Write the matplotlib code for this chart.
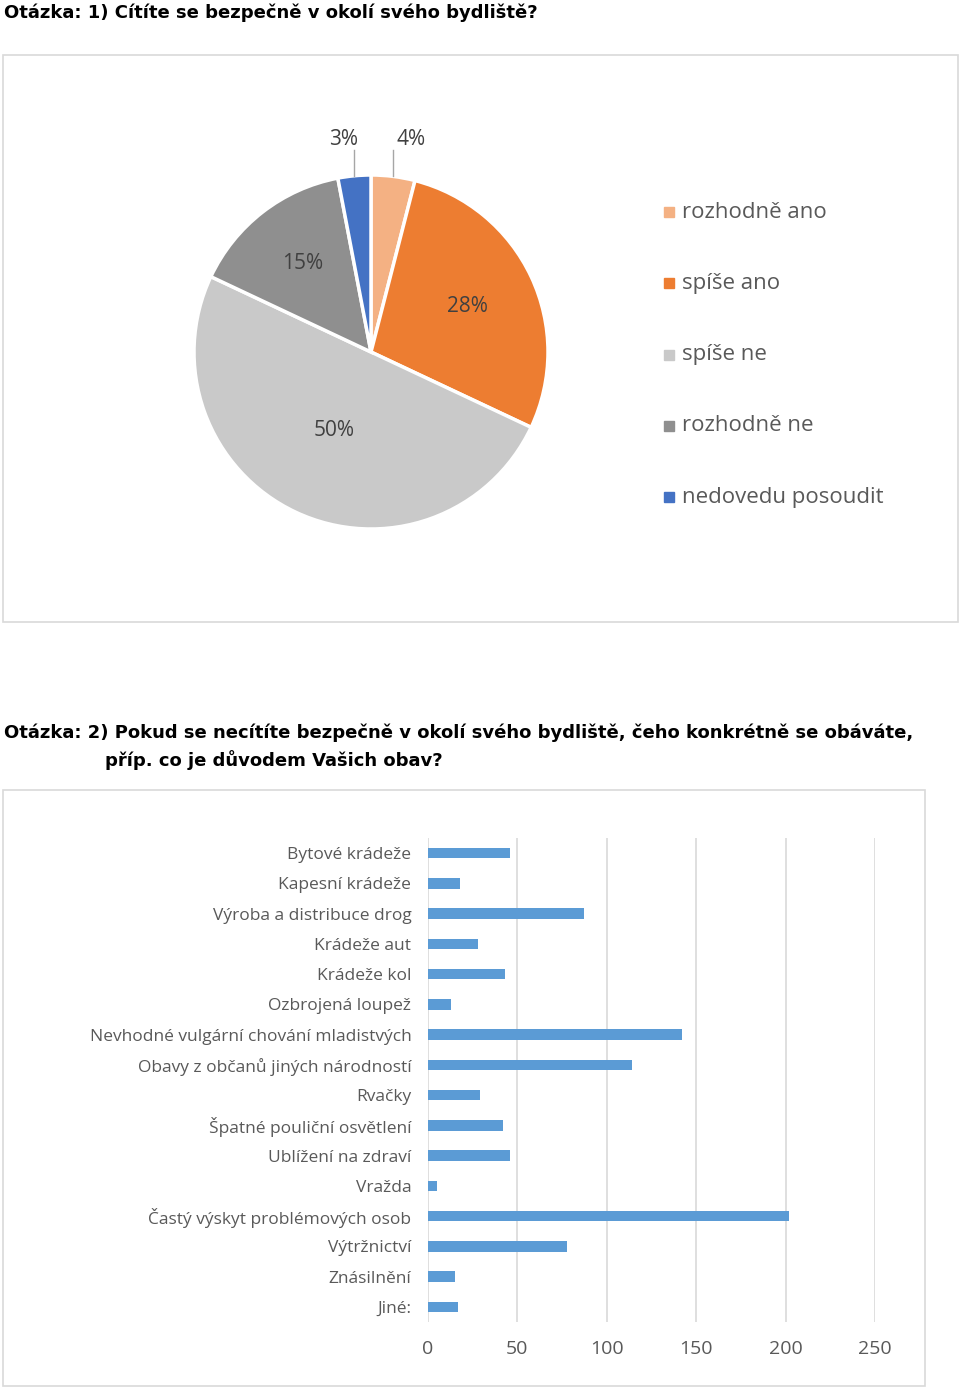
import matplotlib
matplotlib.use('Agg')
import matplotlib.pyplot as plt
from matplotlib.patches import Rectangle
import numpy as np

W, H = 960, 1389

# Otázka 1 - koláčový graf
pie_labels = ['rozhodně ano', 'spíše ano', 'spíše ne', 'rozhodně ne', 'nedovedu posoudit']
pie_values = [4, 28, 50, 15, 3]
pie_colors = ['#F4B183', '#ED7D31', '#C9C9C9', '#8F8F8F', '#4472C4']

# Otázka 2 - sloupcový graf
bar_labels = ['Bytové krádeže', 'Kapesní krádeže', 'Výroba a distribuce drog', 'Krádeže aut',
              'Krádeže kol', 'Ozbrojená loupež', 'Nevhodné vulgární chování mladistvých',
              'Obavy z občanů jiných národností', 'Rvačky', 'Špatné pouliční osvětlení',
              'Ublížení na zdraví', 'Vražda', 'Častý výskyt problémových osob', 'Výtržnictví',
              'Znásilnění', 'Jiné:']
bar_values = [46, 18, 87, 28, 43, 13, 142, 114, 29, 42, 46, 5, 202, 78, 15, 17]
x_ticks = [0, 50, 100, 150, 200, 250]

text_gray = '#595959'
label_gray = '#404040'


def fx(x):
    return x / W


def fy(y):
    return 1 - y / H


def box(x0, y0, x1, y1):
    # rámeček grafu v pixelech
    fig.patches.append(Rectangle((fx(x0), fy(y1)), fx(x1) - fx(x0), fy(y0) - fy(y1),
                                 transform=fig.transFigure, fill=False,
                                 edgecolor='#D9D9D9', linewidth=1.2))


fig = plt.figure(figsize=(W / 100, H / 100), dpi=100)
fig.patch.set_facecolor('white')

# nadpisy
title_kw = dict(fontsize=13, fontweight='bold', family='DejaVu Sans', va='center', ha='left')
fig.text(fx(4), fy(13), 'Otázka: 1) Cítíte se bezpečně v okolí svého bydliště?', **title_kw)
fig.text(fx(4), fy(733),
         'Otázka: 2) Pokud se necítíte bezpečně v okolí svého bydliště, čeho konkrétně se obáváte,',
         **title_kw)
fig.text(fx(105), fy(760), 'příp. co je důvodem Vašich obav?', **title_kw)

box(3, 55, 958, 622)
box(3, 790, 925, 1386)

# koláč
cx, cy, r = 371, 352, 177
ax1 = fig.add_axes([fx(cx - r), fy(cy + r), (2 * r) / W, (2 * r) / H])
wedges, _ = ax1.pie(pie_values, colors=pie_colors, startangle=90, counterclock=False,
                    wedgeprops=dict(edgecolor='white', linewidth=2.5))
ax1.set_xlim(-1, 1)
ax1.set_ylim(-1, 1)
ax1.set_aspect('equal')
ax1.axis('off')

cum = np.cumsum([0] + pie_values)
total = sum(pie_values)
inner_r = {28: 0.6, 50: 0.49, 15: 0.63}
for i, v in enumerate(pie_values):
    mid = 90 - 360 * (cum[i] + v / 2) / total
    a = np.deg2rad(mid)
    if v >= 10:
        rr = inner_r.get(v, 0.6)
        ax1.text(rr * np.cos(a), rr * np.sin(a), f'{v}%', ha='center', va='center',
                 fontsize=15, color=label_gray, family='Open Sans')
    else:
        # popisky mimo koláč s vodicí čárou
        x0 = np.cos(a)
        ax1.plot([x0, x0], [np.sqrt(1 - x0 ** 2), 1.14], color='#A6A6A6', lw=1, clip_on=False)
        ax1.text(x0 + (0.1 if x0 > 0 else -0.06), 1.2, f'{v}%', ha='center', va='center',
                 fontsize=15, color=label_gray, family='Open Sans')

# legenda
for i, lab in enumerate(pie_labels):
    yy = 212 + i * 71.3
    fig.patches.append(Rectangle((fx(664), fy(yy + 5)), 10 / W, 10 / H,
                                 transform=fig.transFigure, color=pie_colors[i]))
    fig.text(fx(682), fy(yy), lab, fontsize=16, color=text_gray, family='Open Sans',
             va='center', ha='left')

# sloupcový graf
ax2 = fig.add_axes([fx(428), fy(1322), (875 - 428) / W, (1322 - 838) / H])
ypos = np.arange(len(bar_labels))
ax2.barh(ypos, bar_values, height=0.34, color='#5B9BD5', zorder=3)
ax2.set_ylim(len(bar_labels) - 0.5, -0.5)
ax2.set_xlim(0, 250)
ax2.set_xticks(x_ticks)
ax2.set_yticks(ypos)
ax2.set_yticklabels(bar_labels)
ax2.grid(axis='x', color='#D9D9D9', linewidth=1.2, zorder=0)
for s in ax2.spines.values():
    s.set_visible(False)
ax2.tick_params(length=0, colors=text_gray)
ax2.tick_params(axis='y', pad=12, labelsize=12.5)
ax2.tick_params(axis='x', pad=13, labelsize=14)
for t in ax2.get_xticklabels() + ax2.get_yticklabels():
    t.set_family('Open Sans')
    t.set_color(text_gray)

fig.savefig('out.png', dpi=100)
